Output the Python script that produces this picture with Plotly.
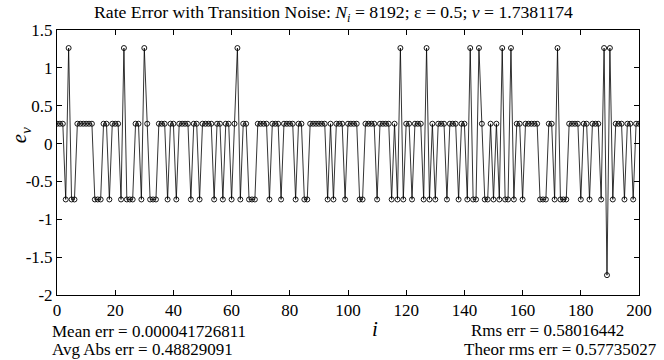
import plotly.graph_objects as go

# sample index i
idx = list(range(0, 201))

# rate error e_v for each sample
err = [
    0.2619, 0.2619, 0.2619, -0.7381, 1.2619, -0.7381, -0.7381, 0.2619, 0.2619, 0.2619,
    0.2619, 0.2619, 0.2619, -0.7381, -0.7381, -0.7381, 0.2619, 0.2619, -0.7381, 0.2619,
    0.2619, 0.2619, -0.7381, 1.2619, -0.7381, -0.7381, -0.7381, 0.2619, 0.2619, -0.7381,
    1.2619, 0.2619, -0.7381, -0.7381, -0.7381, 0.2619, 0.2619, 0.2619, -0.7381, 0.2619,
    0.2619, -0.7381, 0.2619, 0.2619, 0.2619, 0.2619, -0.7381, 0.2619, 0.2619, -0.7381,
    0.2619, 0.2619, 0.2619, 0.2619, -0.7381, 0.2619, 0.2619, -0.7381, 0.2619, 0.2619,
    -0.7381, 0.2619, 1.2619, -0.7381, 0.2619, 0.2619, -0.7381, -0.7381, -0.7381, 0.2619,
    0.2619, 0.2619, 0.2619, -0.7381, 0.2619, 0.2619, 0.2619, -0.7381, 0.2619, 0.2619,
    0.2619, 0.2619, -0.7381, 0.2619, 0.2619, -0.7381, -0.7381, 0.2619, 0.2619, 0.2619,
    0.2619, 0.2619, 0.2619, -0.7381, 0.2619, -0.7381, 0.2619, 0.2619, 0.2619, -0.7381,
    0.2619, 0.2619, 0.2619, 0.2619, -0.7381, -0.7381, 0.2619, 0.2619, 0.2619, 0.2619,
    -0.7381, 0.2619, 0.2619, 0.2619, 0.2619, -0.7381, 0.2619, -0.7381, 1.2619, -0.7381,
    0.2619, 0.2619, -0.7381, 0.2619, 0.2619, 0.2619, -0.7381, 1.2619, -0.7381, 0.2619,
    -0.7381, 0.2619, 0.2619, 0.2619, -0.7381, 0.2619, 0.2619, 0.2619, -0.7381, 0.2619,
    0.2619, -0.7381, 1.2619, -0.7381, -0.7381, 1.2619, 0.2619, -0.7381, -0.7381, 0.2619,
    -0.7381, 0.2619, -0.7381, 1.2619, -0.7381, -0.7381, 1.2619, -0.7381, 0.2619, 0.2619,
    -0.7381, 0.2619, 0.2619, 0.2619, 0.2619, 0.2619, -0.7381, -0.7381, -0.7381, 0.2619,
    0.2619, -0.7381, 1.2619, -0.7381, -0.7381, -0.7381, 0.2619, 0.2619, 0.2619, 0.2619,
    -0.7381, 0.2619, 0.2619, -0.7381, 0.2619, 0.2619, 0.2619, -0.7381, 1.2619, -1.7381,
    1.2619, -0.7381, 0.2619, 0.2619, 0.2619, -0.7381, 0.2619, 0.2619, -0.7381, 0.2619,
    0.2619,
]

x_ticks = [0, 20, 40, 60, 80, 100, 120, 140, 160, 180, 200]
y_ticks = [-2, -1.5, -1, -0.5, 0, 0.5, 1, 1.5]
y_tick_text = ["-2", "-1.5", "-1", "-0.5", "0", "0.5", "1", "1.5"]

title_text = "Rate Error with Transition Noise: <i>N<sub>i</sub></i> = 8192; ε = 0.5; <i>ν</i> = 1.7381174"
stats_left = ["Mean err = 0.000041726811", "Avg Abs err = 0.48829091"]
stats_right = ["Rms err = 0.58016442", "Theor rms err = 0.57735027"]

FONT = "Liberation Serif, Times New Roman, serif"
W, H = 664, 360
L, R, T, B = 57, 23, 30, 65
PW, PH = W - L - R, H - T - B


def px(xp):
    return (xp - L) / PW


def py(yp):
    return (H - B - yp) / PH


fig = go.Figure()
fig.add_trace(go.Scatter(
    x=idx, y=err, mode="lines+markers",
    line=dict(color="black", width=0.8),
    marker=dict(symbol="circle-open", size=5, color="black", line=dict(width=0.9, color="black")),
    showlegend=False,
))

fig.update_layout(
    width=W, height=H,
    margin=dict(l=L, r=R, t=T, b=B),
    paper_bgcolor="white", plot_bgcolor="white",
    font=dict(family=FONT, size=17, color="black"),
    xaxis=dict(range=[0, 200], tickvals=x_ticks, ticks="inside", ticklen=5,
               tickcolor="black", showline=True, linecolor="black", linewidth=1,
               mirror="ticks", showgrid=False, zeroline=False,
               tickfont=dict(family=FONT, size=17)),
    yaxis=dict(range=[-2, 1.5], tickvals=y_ticks, ticktext=y_tick_text, ticks="inside",
               ticklen=5, tickcolor="black", showline=True, linecolor="black", linewidth=1,
               mirror="ticks", showgrid=False, zeroline=False,
               tickfont=dict(family=FONT, size=17)),
)

ann = []
ann.append(dict(text=title_text, xref="paper", yref="paper", x=px(334.5), y=py(13),
                xanchor="center", yanchor="middle", showarrow=False,
                font=dict(family=FONT, size=17.7)))
ann.append(dict(text="<i>e<sub>ν</sub></i>", xref="paper", yref="paper", x=px(20), y=py(135),
                xanchor="center", yanchor="middle", showarrow=False, textangle=-90,
                font=dict(family=FONT, size=21)))
ann.append(dict(text="<i>i</i>", xref="paper", yref="paper", x=px(376), y=py(329),
                xanchor="center", yanchor="middle", showarrow=False,
                font=dict(family=FONT, size=21)))
for k, t in enumerate(stats_left):
    ann.append(dict(text=t, xref="paper", yref="paper", x=px(50), y=py([331, 349][k]),
                    xanchor="left", yanchor="middle", showarrow=False,
                    font=dict(family=FONT, size=17)))
for k, t in enumerate(stats_right):
    ann.append(dict(text=t, xref="paper", yref="paper", x=px([470, 463][k]), y=py([330, 349][k]),
                    xanchor="left", yanchor="middle", showarrow=False,
                    font=dict(family=FONT, size=17)))
fig.update_layout(annotations=ann)

fig.write_html("out.html")
